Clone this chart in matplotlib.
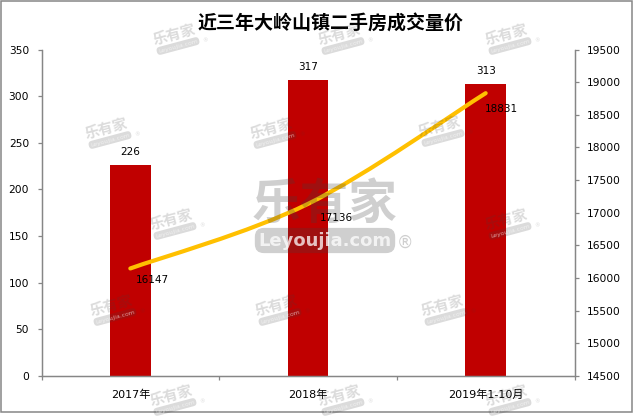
import matplotlib
matplotlib.use("Agg")
import matplotlib.pyplot as plt
import numpy as np
from matplotlib.patches import PathPatch, Rectangle
from matplotlib.path import Path
from matplotlib.text import Annotation

plt.rcParams["font.family"] = ["DejaVu Sans", "Noto Sans CJK SC"]

W, H = 633, 416
GREY = "#868686"
CJK = ["Noto Sans CJK SC", "DejaVu Sans"]
MARK = (0.25, 0.25, 0.25, 0.25)
MARK_SMALL = (0.25, 0.25, 0.25, 0.19)

categories = ["2017年", "2018年", "2019年1-10月"]
volume = [226, 317, 313]
price = [16147, 17136, 18831]

# label offsets of the price series, in pixels from the point
price_offsets = [(22, -12), (28, -14), (16, -16)]


def fx(px):
    return px / W


def fy(py):
    return 1 - py / H


def smooth_path(xs, ys):
    """Excel style smoothed line: one bezier per pair of points."""
    pts = np.column_stack([xs, ys]).astype(float)
    verts = [pts[0]]
    codes = [Path.MOVETO]
    for i in range(len(pts) - 1):
        before = pts[max(i - 1, 0)]
        after = pts[min(i + 2, len(pts) - 1)]
        verts += [pts[i] + (pts[i + 1] - before) / 6, pts[i + 1] - (after - pts[i]) / 6, pts[i + 1]]
        codes += [Path.CURVE4] * 3
    return Path(verts, codes)


def watermark(fig, px, py):
    # small tilted logo, centred on px, py
    fig.text(fx(px - 4), fy(py - 3), "乐有家", family=CJK, fontsize=10.5, color=MARK_SMALL, fontweight="bold",
             rotation=15, rotation_mode="anchor", ha="center", va="center")
    fig.text(fx(px), fy(py + 8), "Leyoujia.com", fontsize=4.4, color=(1, 1, 1, 0.6),
             rotation=15, rotation_mode="anchor", ha="center", va="center",
             bbox=dict(boxstyle="round,pad=0.25,rounding_size=0.6", fc=MARK_SMALL, ec="none"))
    fig.text(fx(px + 27), fy(py + 3), "®", fontsize=4, color=MARK_SMALL, ha="center", va="center")


fig = plt.figure(figsize=(W / 100, H / 100), dpi=100)
fig.patch.set_facecolor("white")

ax = fig.add_axes([fx(41.5), fy(376), (574.5 - 41.5) / W, (376 - 49.5) / H])
ax2 = ax.twinx()

x = np.arange(len(categories))
ax.bar(x, volume, width=0.23, color="#C00000")
ax.set_xlim(-0.5, 2.5)
ax.set_ylim(0, 350)
ax.set_yticks(np.arange(0, 351, 50))
ax.set_xticks(x, categories)
ax.set_xticks(np.arange(-0.5, 2.6, 1), minor=True)
ax.tick_params(axis="x", which="major", length=0, pad=10, labelsize=8)
ax.tick_params(axis="x", which="minor", length=3, width=0.9, color=GREY)
ax.tick_params(axis="y", length=3, width=0.9, color=GREY, pad=6, labelsize=7.7)

for xi, v in zip(x, volume):
    ax.annotate(str(v), (xi, v), xytext=(0, 9.4), textcoords="offset points",
                ha="center", va="center", fontsize=7.5, color="black")

ax2.set_ylim(14500, 19500)
ax2.set_yticks(np.arange(14500, 19501, 500))
ax2.tick_params(axis="y", length=3, width=0.9, color=GREY, pad=6, labelsize=7.7)
ax2.add_patch(PathPatch(smooth_path(x, price), fill=False, edgecolor="#FFC000",
                        linewidth=3, capstyle="round"))

for a in (ax, ax2):
    a.spines["top"].set_visible(False)
    for side in ("left", "right", "bottom"):
        a.spines[side].set_color(GREY)
        a.spines[side].set_linewidth(0.9)

fig.text(fx(330.5), fy(24), "近三年大岭山镇二手房成交量价", family=CJK, fontsize=13.7,
         fontweight="bold", ha="center", va="center", color="black")

# watermarks
for px, py in [(178, 38), (343, 38), (510, 38), (110, 132), (275, 132), (443, 130),
               (175, 223), (510, 223), (115, 309), (280, 309), (446, 309),
               (175, 399), (343, 399), (510, 399)]:
    watermark(fig, px, py)

fig.text(fx(325), fy(204), "乐有家", family=CJK, fontsize=35, color=MARK, fontweight="bold",
         ha="center", va="center")
fig.text(fx(325), fy(240.5), "Leyoujia.com", fontsize=13, color=(1, 1, 1, 0.75), fontweight="bold",
         ha="center", va="center",
         bbox=dict(boxstyle="round,pad=0.2,rounding_size=0.5", fc=MARK, ec="none"))
fig.text(fx(405), fy(243), "®", fontsize=12, color=MARK, ha="center", va="center")

# price labels sit above the watermarks, so they go on the figure
for xi, v, (dx, dy) in zip(x, price, price_offsets):
    fig.add_artist(Annotation(str(v), (xi, v), xycoords=ax2.transData, xytext=(dx * 0.72, dy * 0.72),
                              textcoords="offset points", ha="center", va="center",
                              fontsize=7.5, color="black", zorder=6))

# chart frame
fig.add_artist(Rectangle((fx(0.5), fy(411.5)), 631 / W, 411 / H, transform=fig.transFigure,
                         fill=False, edgecolor=GREY, linewidth=1.1))

fig.savefig("out.png", dpi=100)
